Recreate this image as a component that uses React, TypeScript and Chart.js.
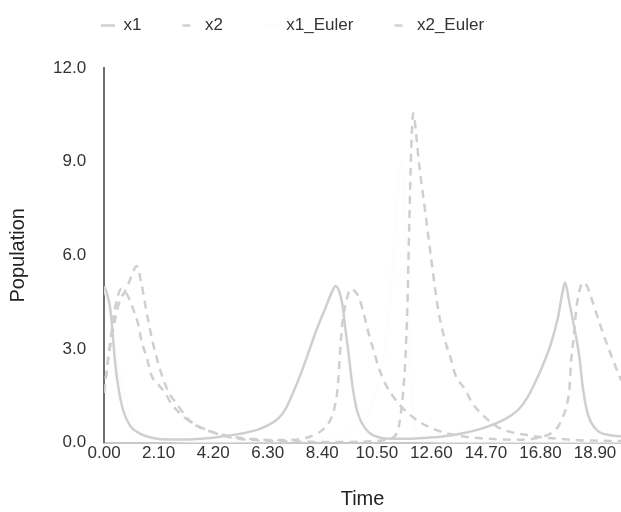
import { useEffect, useRef } from 'react';
import { Chart, registerables } from 'chart.js';

Chart.register(...registerables);

const FONT = '"Liberation Sans", Arial, Helvetica, sans-serif';
const LINE = '#cfcfcf';
const FAINT = '#fdfdfd';

const xTickValues = [0, 2.1, 4.2, 6.3, 8.4, 10.5, 12.6, 14.7, 16.8, 18.9];
const yTickValues = [0, 3, 6, 9, 12];

const x1Time = [0, 0.1, 0.23, 0.33, 0.42, 0.55, 0.74, 1.0, 1.38, 1.88, 2.5, 3.3, 4.0, 4.56, 5.2, 5.86, 6.3, 6.74, 7.0, 7.25, 7.5, 7.77, 8.15, 8.53, 8.79, 8.91, 9.05, 9.17, 9.3, 9.43, 9.55, 9.74, 10.07, 10.57, 11.2, 12.0, 12.7, 13.26, 13.8, 14.5, 15.1, 15.56, 16.0, 16.3, 16.55, 16.8, 17.0, 17.2, 17.47, 17.66, 17.75, 17.9, 18.1, 18.3, 18.43, 18.62, 19.0, 19.4, 19.9];
const x1Values = [5.0, 4.8, 4.33, 3.5, 2.6, 1.77, 1.02, 0.54, 0.29, 0.15, 0.1, 0.1, 0.14, 0.2, 0.28, 0.4, 0.55, 0.8, 1.1, 1.55, 2.05, 2.65, 3.55, 4.33, 4.86, 5.02, 4.85, 4.44, 3.58, 2.73, 1.88, 1.02, 0.44, 0.17, 0.12, 0.13, 0.17, 0.22, 0.3, 0.44, 0.62, 0.81, 1.1, 1.45, 1.85, 2.3, 2.7, 3.16, 4.0, 4.86, 5.13, 4.54, 3.69, 2.73, 1.77, 0.92, 0.38, 0.25, 0.2];

const x2Time = [0, 0.1, 0.2, 0.3, 0.4, 0.5, 0.65, 0.8, 1.0, 1.15, 1.31, 1.44, 1.64, 1.83, 2.1, 2.34, 2.59, 3.1, 3.6, 4.2, 5.0, 6.0, 7.0, 7.6, 8.1, 8.4, 8.66, 8.85, 8.98, 9.04, 9.1, 9.17, 9.3, 9.49, 9.65, 9.81, 10.0, 10.19, 10.38, 10.57, 10.83, 11.15, 11.6, 12.17, 12.87, 13.8, 14.8, 15.8, 16.5, 17.0, 17.3, 17.47, 17.65, 17.79, 17.92, 17.98, 18.08, 18.17, 18.3, 18.43, 18.6, 18.75, 19.13, 19.5, 19.9];
const x2Values = [1.6, 2.3, 3.0, 3.65, 4.2, 4.6, 4.92, 4.85, 4.55, 4.2, 3.8, 3.26, 2.73, 2.14, 1.85, 1.6, 1.25, 0.8, 0.52, 0.33, 0.18, 0.1, 0.08, 0.12, 0.25, 0.4, 0.65, 1.05, 1.66, 2.3, 3.1, 3.8, 4.44, 4.92, 4.85, 4.65, 4.12, 3.48, 2.94, 2.41, 1.88, 1.45, 1.02, 0.65, 0.38, 0.2, 0.12, 0.09, 0.12, 0.22, 0.35, 0.5, 0.8, 1.13, 1.77, 2.62, 3.37, 4.22, 4.86, 5.13, 5.0, 4.65, 3.69, 2.84, 2.0];

const x1EulerTime = [0, 0.3, 0.6, 1.0, 1.5, 2.5, 4.0, 6.0, 8.0, 9.5, 10.3, 10.8, 11.1, 11.3, 11.45, 11.6, 11.75, 11.9, 12.2, 13.0, 15.0, 17.0, 19.9];
const x1EulerValues = [5.0, 3.8, 2.3, 0.9, 0.3, 0.07, 0.03, 0.04, 0.1, 0.4, 1.2, 3.0, 5.5, 8.0, 9.0, 7.0, 3.0, 0.9, 0.2, 0.03, 0.01, 0.01, 0.01];

const x2EulerTime = [0, 0.15, 0.3, 0.55, 0.87, 1.06, 1.25, 1.44, 1.57, 1.7, 1.83, 2.02, 2.21, 2.46, 2.85, 3.3, 3.87, 4.83, 6.0, 7.5, 9.0, 10.0, 10.6, 11.0, 11.2, 11.34, 11.5, 11.6, 11.68, 11.75, 11.82, 11.9, 12.0, 12.1, 12.36, 12.62, 12.87, 13.13, 13.38, 13.51, 13.9, 14.15, 14.53, 15.17, 16.45, 17.5, 18.5, 19.9];
const x2EulerValues = [1.6, 2.6, 3.4, 4.4, 4.95, 5.34, 5.66, 5.08, 4.49, 3.9, 3.37, 2.73, 2.2, 1.66, 1.18, 0.7, 0.44, 0.17, 0.07, 0.03, 0.02, 0.03, 0.06, 0.12, 0.22, 0.49, 1.5, 2.7, 4.5, 7.0, 9.3, 10.55, 10.0, 9.13, 7.42, 5.72, 4.22, 3.26, 2.6, 2.2, 1.7, 1.3, 0.92, 0.49, 0.22, 0.12, 0.07, 0.05];

const zip = (t: number[], v: number[]) => t.map((x, i) => ({ x, y: v[i] }));

const legendGap = {
  id: 'legendGap',
  beforeInit(chart: any) {
    const legend = chart.legend;
    if (!legend) return;
    const origFit = legend.fit;
    legend.fit = function fit() {
      origFit.call(this);
      this.height += 24;
      if (Array.isArray(this.lineWidths)) this.lineWidths = this.lineWidths.map((w: number) => w + 36);
    };
  },
};

export default function App() {
  const ref = useRef<HTMLCanvasElement | null>(null);

  useEffect(() => {
    if (!ref.current) return;
    const baseGen = (Chart as any).defaults.plugins.legend.labels.generateLabels;
    const chart = new Chart(ref.current, {
      type: 'line',
      data: {
        datasets: [
          { label: 'x1', data: zip(x1Time, x1Values), borderColor: LINE, backgroundColor: LINE, borderWidth: 2.5, pointRadius: 0, pointStyle: 'line', cubicInterpolationMode: 'monotone' },
          { label: 'x2', data: zip(x2Time, x2Values), borderColor: LINE, backgroundColor: LINE, borderWidth: 2.5, borderDash: [8, 6], pointRadius: 0, pointStyle: 'line', cubicInterpolationMode: 'monotone' },
          { label: 'x1_Euler', data: zip(x1EulerTime, x1EulerValues), borderColor: FAINT, backgroundColor: FAINT, borderWidth: 2.5, pointRadius: 0, pointStyle: 'line', cubicInterpolationMode: 'monotone', order: 10 },
          { label: 'x2_Euler', data: zip(x2EulerTime, x2EulerValues), borderColor: LINE, backgroundColor: LINE, borderWidth: 2.5, borderDash: [8, 6], pointRadius: 0, pointStyle: 'line', cubicInterpolationMode: 'monotone' },
        ] as any,
      },
      options: {
        animation: false,
        responsive: true,
        maintainAspectRatio: false,
        layout: { padding: { top: -24, left: 0, right: 0, bottom: 0 } },
        plugins: {
          tooltip: { enabled: false },
          legend: {
            labels: {
              usePointStyle: true,
              pointStyleWidth: 14,
              padding: 41,
              color: '#333',
              font: { family: FONT, size: 17 },
              generateLabels: (c: any) =>
                baseGen(c)
                  .map((it: any) => ({ ...it, lineDash: c.data.datasets[it.datasetIndex].borderDash || [] }))
                  .sort((a: any, b: any) => a.datasetIndex - b.datasetIndex),
            },
          },
        },
        scales: {
          x: {
            type: 'linear',
            min: 0,
            max: 19.9,
            afterBuildTicks: (s: any) => { s.ticks = xTickValues.map((v) => ({ value: v })); },
            grid: { display: false, drawTicks: false },
            border: { display: true, color: '#c8c8c8', width: 2 },
            ticks: { autoSkip: false, maxRotation: 0, padding: 1, color: '#333', font: { family: FONT, size: 17 }, callback: (v: any) => Number(v).toFixed(2) },
            title: { display: true, text: 'Time', color: '#222', font: { family: FONT, size: 20 }, padding: { top: 22, bottom: 1 } },
          },
          y: {
            type: 'linear',
            min: 0,
            max: 12,
            afterBuildTicks: (s: any) => { s.ticks = yTickValues.map((v) => ({ value: v })); },
            grid: { display: false, drawTicks: false },
            border: { display: true, color: '#707070', width: 2 },
            ticks: { padding: 18, color: '#333', font: { family: FONT, size: 17 }, callback: (v: any) => Number(v).toFixed(1) },
            title: { display: true, text: 'Population', color: '#222', font: { family: FONT, size: 20 }, padding: { top: 6, bottom: 5 } },
          },
        },
      } as any,
      plugins: [legendGap],
    });
    return () => chart.destroy();
  }, []);

  return (
    <div style={{ position: 'absolute', left: 0, top: 0, width: 621, height: 512 }}>
      <canvas ref={ref} />
    </div>
  );
}
